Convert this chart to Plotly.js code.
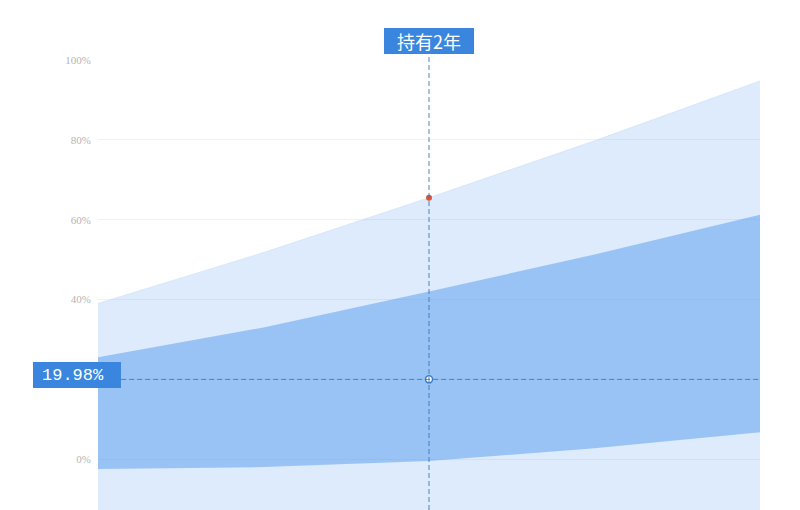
<!DOCTYPE html>
<html>
<head>
<meta charset="utf-8">
<script src="https://cdn.plot.ly/plotly-3.0.1.min.js"></script>
<style>html,body{margin:0;padding:0;background:#fff;}#chart{width:800px;height:510px;}</style>
</head>
<body>
<div id="chart"></div>
<script>
// Holding period (years)
const years = [1, 1.5, 2, 2.5, 3];
// Return bands (%)
const outerUpper = [39, 51.75, 65.5, 79.75, 94.75];
const innerUpper = [25.5, 33, 42, 51.25, 61.25];
const innerLower = [-2.5, -2, -0.5, 2.75, 6.75];
const outerLower = [-20, -22, -23, -23.5, -23.5];
// Highlighted values
const markYear = 2;
const markUpper = 65.5;
const markValue = 19.98;
const markLabel = '持有2年';
const valueLabel = '19.98%';
// 20% label is hidden behind the value label in the reference
const tickVals = [0, 20, 40, 60, 80, 100];
const tickText = ['0%', '', '40%', '60%', '80%', '100%'];

const outerFill = 'rgba(60,140,235,0.174)';
const innerFill = 'rgba(60,140,235,0.42)';
const boxColor = '#3a86de';

const traces = [
  {x: years, y: outerLower, mode: 'lines', line: {width: 0}, hoverinfo: 'skip', showlegend: false},
  {x: years, y: outerUpper, mode: 'lines', line: {width: 0.6, color: 'rgba(200,220,245,0.9)'}, fill: 'tonexty', fillcolor: outerFill, hoverinfo: 'skip', showlegend: false},
  {x: years, y: innerLower, mode: 'lines', line: {width: 0}, hoverinfo: 'skip', showlegend: false},
  {x: years, y: innerUpper, mode: 'lines', line: {width: 0}, fill: 'tonexty', fillcolor: innerFill, hoverinfo: 'skip', showlegend: false},
  {x: [markYear], y: [markUpper], mode: 'markers', marker: {size: 6, color: '#d8553c'}, hoverinfo: 'skip', showlegend: false},
  {x: [markYear], y: [markValue], mode: 'markers', marker: {size: 7, color: '#ffffff', line: {color: '#3f7fc1', width: 1.5}}, hoverinfo: 'skip', showlegend: false}
];

const dashColor = 'rgba(60,120,190,0.9)';
const layout = {
  width: 800, height: 510,
  margin: {l: 98, r: 40, t: 60, b: 0, pad: 0},
  paper_bgcolor: '#ffffff', plot_bgcolor: '#ffffff',
  showlegend: false,
  xaxis: {range: [1, 3], showgrid: false, zeroline: false, showline: false, showticklabels: false, ticks: '', fixedrange: true},
  yaxis: {range: [-12.75, 100], tickvals: tickVals, ticktext: tickText, showgrid: true, gridcolor: '#f2f2f2', gridwidth: 1,
          zeroline: false, showline: false, ticks: '', ticklabelstandoff: 6,
          tickfont: {family: 'Liberation Serif, serif', size: 11, color: '#b5b5b5'}, fixedrange: true},
  shapes: [
    {type: 'line', xref: 'x', yref: 'paper', x0: markYear, x1: markYear, y0: 0, y1: 1.013, line: {color: dashColor, width: 1, dash: '5px,3px'}, layer: 'above'},
    {type: 'line', xref: 'paper', yref: 'y', x0: 0.035, x1: 1, y0: markValue, y1: markValue, line: {color: dashColor, width: 1, dash: '5px,3px'}, layer: 'above'},
    {type: 'rect', xref: 'paper', yref: 'paper', x0: 0.432, x1: 0.568, y0: 1.0133, y1: 1.0711, fillcolor: boxColor, line: {width: 0}, layer: 'above'},
    {type: 'rect', xref: 'paper', yref: 'paper', x0: -0.0982, x1: 0.0347, y0: 0.2711, y1: 0.3289, fillcolor: boxColor, line: {width: 0}, layer: 'above'}
  ],
  annotations: [
    {xref: 'x', yref: 'paper', x: markYear, y: 1.042, text: markLabel, showarrow: false, xanchor: 'center', yanchor: 'middle',
     font: {family: 'Noto Sans CJK SC, sans-serif', size: 18, color: '#ffffff'}},
    {xref: 'paper', yref: 'paper', x: -0.0876, y: 0.3, text: valueLabel, showarrow: false, xanchor: 'left', yanchor: 'middle',
     font: {family: 'Liberation Mono, monospace', size: 17, color: '#ffffff'}}
  ]
};

Plotly.newPlot('chart', traces, layout, {staticPlot: true, displayModeBar: false});
</script>
</body>
</html>
